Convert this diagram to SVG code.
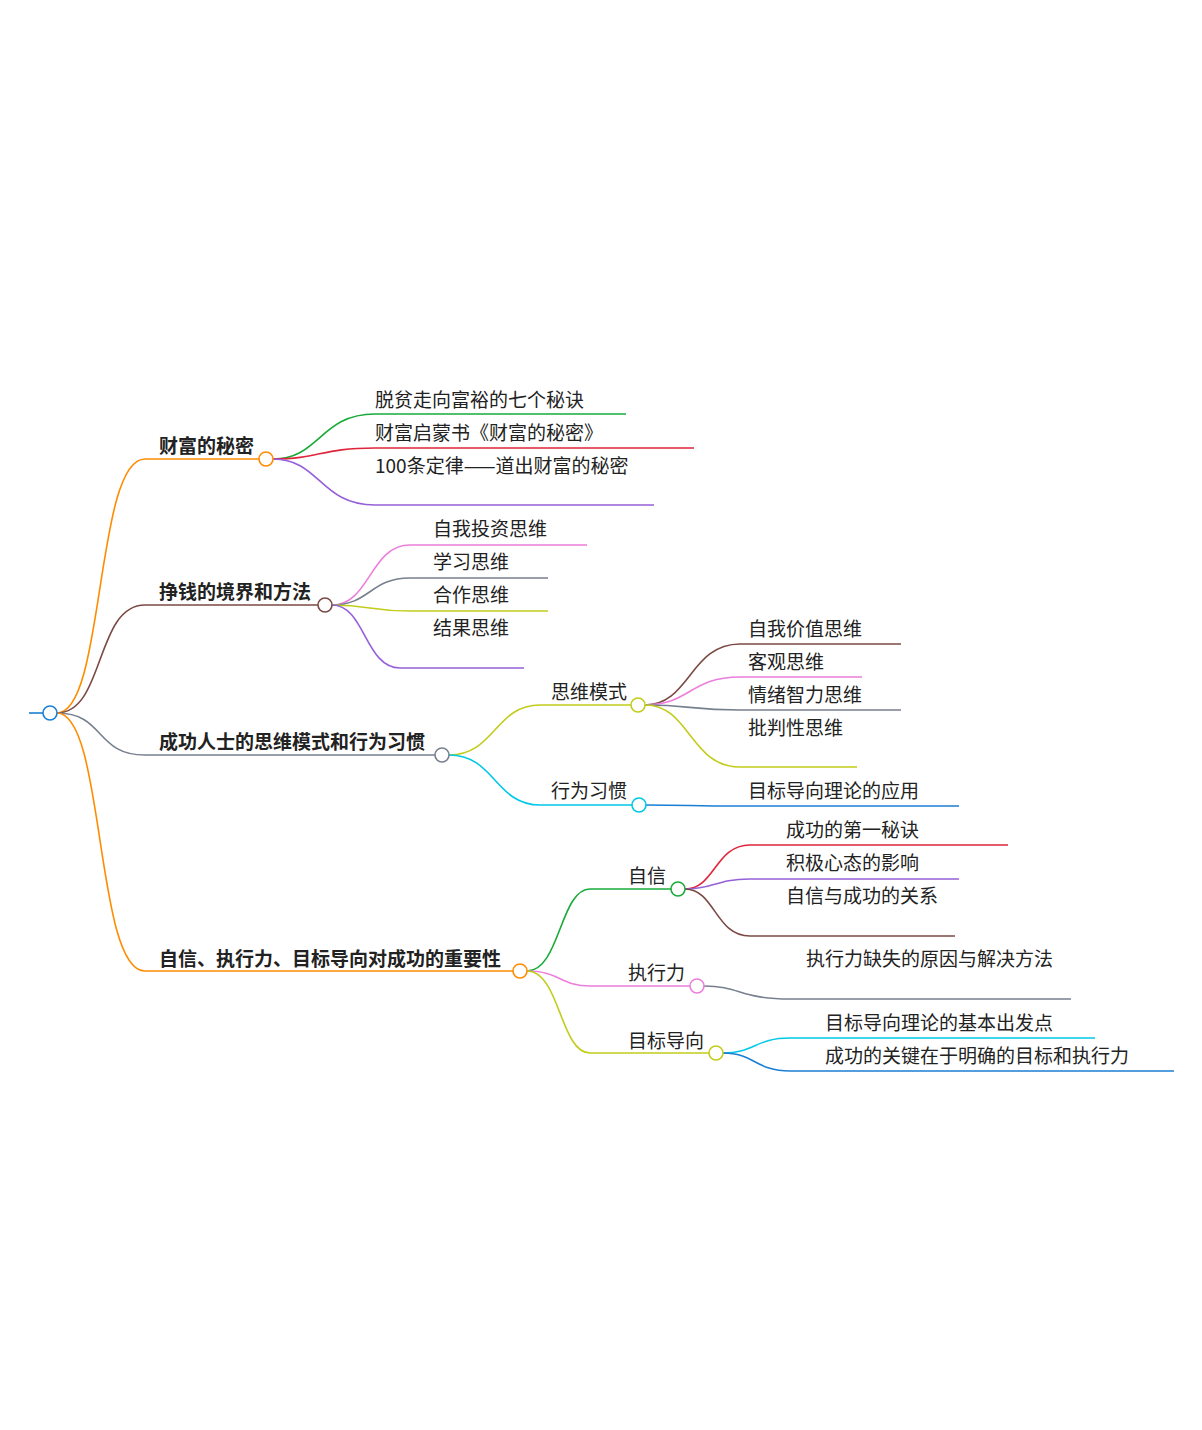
<svg xmlns="http://www.w3.org/2000/svg" width="1202" height="1430" viewBox="0 0 1202 1430">
<style>
text{font-family:"Noto Sans CJK SC","Noto Sans",sans-serif;font-size:19px;fill:#222}
.b{font-weight:bold}
path{fill:none;stroke-width:1.6}
circle{fill:#fff;stroke-width:1.6}
</style>
<rect width="1202" height="1430" fill="#fff"/>
<g id="connectors">
<path d="M29,713H44" stroke="#1a7fd4" stroke-width="4"/>
<path d="M57,713C105,713 95,459 145,459H260" stroke="#ff8c00" stroke-width="2.2"/>
<path d="M57,713C105,713 95,605 145,605H318" stroke="#7b4a45" stroke-width="2.2"/>
<path d="M57,713C105,713 95,755 145,755H435" stroke="#77808e" stroke-width="2.2"/>
<path d="M57,713C105,713 95,971 145,971H513" stroke="#ff8c00" stroke-width="2.2"/>
<path d="M273,459C320,459 320,414 375,414H626" stroke="#1aaa3a"/>
<path d="M273,459C320,459 320,448 375,448H694" stroke="#e0243a"/>
<path d="M273,459C320,459 320,505 375,505H654" stroke="#9560d8"/>
<path d="M332,605C370,605 370,545 410,545H587" stroke="#ec7edc"/>
<path d="M332,605C370,605 370,578 410,578H548" stroke="#77808e"/>
<path d="M332,605C370,605 370,611 410,611H548" stroke="#c2cc1a"/>
<path d="M332,605C365,605 365,668 400,668H524" stroke="#9560d8"/>
<path d="M449,755C495,755 495,705 540,705H631" stroke="#c2cc1a"/>
<path d="M449,755C495,755 495,805 540,805H632" stroke="#00c8e8"/>
<path d="M645,705C690,705 690,644 740,644H901" stroke="#7b4a45"/>
<path d="M645,705C690,705 690,677 740,677H862" stroke="#ec7edc"/>
<path d="M645,705C690,705 690,710 740,710H901" stroke="#77808e"/>
<path d="M645,705C690,705 690,767 740,767H857" stroke="#c2cc1a"/>
<path d="M646,805C690,805 690,806 740,806H959" stroke="#1a7fd4"/>
<path d="M527,971C560,971 560,889 590,889H671" stroke="#1aaa3a"/>
<path d="M527,971C560,971 560,986 590,986H690" stroke="#ec7edc"/>
<path d="M527,971C560,971 560,1053 590,1053H709" stroke="#c2cc1a"/>
<path d="M685,889C715,889 715,845 750,845H1008" stroke="#e0243a"/>
<path d="M685,889C715,889 715,879 750,879H959" stroke="#9560d8"/>
<path d="M685,889C715,889 715,936 750,936H955" stroke="#7b4a45"/>
<path d="M704,986C740,986 740,999 790,999H1071" stroke="#77808e"/>
<path d="M723,1053C755,1053 755,1038 790,1038H1095" stroke="#00c8e8"/>
<path d="M723,1053C755,1053 755,1071 790,1071H1174" stroke="#1a7fd4"/>
</g>
<g id="root"><circle cx="50" cy="713" r="7" stroke="#1a7fd4"/></g>
<g id="n1"><text x="159" y="453" class="b">财富的秘密</text><circle cx="266" cy="459" r="7" stroke="#ff8c00"/></g>
<g id="n1a"><text x="375" y="407">脱贫走向富裕的七个秘诀</text></g>
<g id="n1b"><text x="375" y="440">财富启蒙书《财富的秘密》</text></g>
<g id="n1c"><text x="375" y="473">100条定律——道出财富的秘密</text></g>
<g id="n2"><text x="159" y="599" class="b">挣钱的境界和方法</text><circle cx="325" cy="605" r="7" stroke="#7b4a45"/></g>
<g id="n2a"><text x="433" y="536">自我投资思维</text></g>
<g id="n2b"><text x="433" y="569">学习思维</text></g>
<g id="n2c"><text x="433" y="602">合作思维</text></g>
<g id="n2d"><text x="433" y="635">结果思维</text></g>
<g id="n3"><text x="159" y="749" class="b">成功人士的思维模式和行为习惯</text><circle cx="442" cy="755" r="7" stroke="#77808e"/></g>
<g id="n3a"><text x="551" y="699">思维模式</text><circle cx="638" cy="705" r="7" stroke="#c2cc1a"/></g>
<g id="n3a1"><text x="748" y="636">自我价值思维</text></g>
<g id="n3a2"><text x="748" y="669">客观思维</text></g>
<g id="n3a3"><text x="748" y="702">情绪智力思维</text></g>
<g id="n3a4"><text x="748" y="735">批判性思维</text></g>
<g id="n3b"><text x="551" y="798">行为习惯</text><circle cx="639" cy="805" r="7" stroke="#00c8e8"/></g>
<g id="n3b1"><text x="748" y="798">目标导向理论的应用</text></g>
<g id="n4"><text x="159" y="966" class="b">自信、执行力、目标导向对成功的重要性</text><circle cx="520" cy="971" r="7" stroke="#ff8c00"/></g>
<g id="n4a"><text x="628" y="883">自信</text><circle cx="678" cy="889" r="7" stroke="#1aaa3a"/></g>
<g id="n4a1"><text x="786" y="837">成功的第一秘诀</text></g>
<g id="n4a2"><text x="786" y="870">积极心态的影响</text></g>
<g id="n4a3"><text x="786" y="903">自信与成功的关系</text></g>
<g id="n4b"><text x="628" y="980">执行力</text><circle cx="697" cy="986" r="7" stroke="#ec7edc"/></g>
<g id="n4b1"><text x="806" y="966">执行力缺失的原因与解决方法</text></g>
<g id="n4c"><text x="628" y="1048">目标导向</text><circle cx="716" cy="1053" r="7" stroke="#c2cc1a"/></g>
<g id="n4c1"><text x="825" y="1030">目标导向理论的基本出发点</text></g>
<g id="n4c2"><text x="825" y="1063">成功的关键在于明确的目标和执行力</text></g>
</svg>
